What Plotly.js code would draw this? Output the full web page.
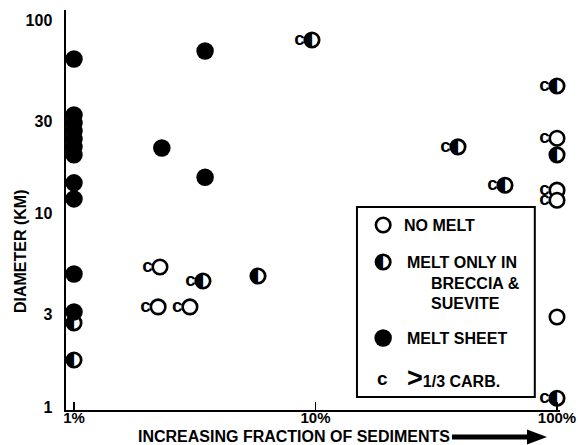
<!DOCTYPE html>
<html><head><meta charset="utf-8">
<script src="https://cdn.plot.ly/plotly-3.0.1.min.js"></script>
<style>html,body{margin:0;padding:0;background:#fff}</style>
</head><body><div id="chart" style="width:578px;height:445px"></div>
<script>
// x: fraction of sediments in target (%), y: crater diameter (km)
const noMeltX = [2.27, 2.23, 3.02, 100, 100, 100, 100];
const noMeltY = [5.29, 3.29, 3.29, 24.5, 13.2, 11.7, 2.92];
const noMeltCarb = [1, 1, 1, 1, 1, 1, 0];

const brecciaX = [1, 1, 3.42, 5.78, 9.67, 38.9, 60.9, 100, 100, 100];
const brecciaY = [2.72, 1.75, 4.48, 4.75, 78.8, 22.1, 14.0, 45.6, 20.1, 1.11];
const brecciaCarb = [0, 0, 1, 0, 1, 1, 1, 1, 0, 1];

const sheetX = [1, 1, 1, 1, 1, 1, 1, 1, 1, 1, 1, 2.31, 3.49, 3.49];
const sheetY = [62.9, 32.3, 29.4, 26.7, 24.3, 22.1, 20.1, 14.4, 11.9, 4.87, 3.10, 21.8, 69.2, 15.4];

const xTickVals = [1, 10, 100];
const xTickText = ['1%', '10%', '100%'];
const yTickVals = [1, 3, 10, 30, 100];
const yTickText = ['1', '3', '10', '30', '100'];

const legendLabels = ['NO MELT', 'MELT ONLY IN', 'BRECCIA &amp;', 'SUEVITE', 'MELT SHEET', '1/3 CARB.'];

// build carbonate label positions from the data
const carbX = [], carbY = [];
noMeltX.forEach((v, i) => { if (noMeltCarb[i]) { carbX.push(v); carbY.push(noMeltY[i]); } });
brecciaX.forEach((v, i) => { if (brecciaCarb[i]) { carbX.push(v); carbY.push(brecciaY[i]); } });

const BOLD = 'Liberation Sans, Arial, Helvetica, sans-serif';
const openMarker = {symbol: 'circle', size: 14.5, color: 'rgba(255,255,255,0)', line: {color: 'black', width: 2.6}};
const openMarkerWhite = {symbol: 'circle', size: 14.5, color: 'white', line: {color: 'black', width: 2.6}};
const filledMarker = {symbol: 'circle', size: 17.5, color: 'black', line: {width: 0}};
const halfGlyph = {family: 'DejaVu Sans', size: 19, color: 'black'};

const traces = [
  // half-filled: black left half (glyph) + thick outline
  {x: brecciaX, y: brecciaY, mode: 'text', text: brecciaX.map(() => '◐'), textposition: 'middle center',
   textfont: halfGlyph, cliponaxis: false, hoverinfo: 'skip'},
  {x: brecciaX, y: brecciaY, mode: 'markers', marker: openMarker, cliponaxis: false, name: 'MELT ONLY IN BRECCIA & SUEVITE'},
  {x: noMeltX, y: noMeltY, mode: 'markers', marker: openMarkerWhite, cliponaxis: false, name: 'NO MELT'},
  {x: sheetX, y: sheetY, mode: 'markers', marker: filledMarker, cliponaxis: false, name: 'MELT SHEET'},
  {x: carbX, y: carbY, mode: 'markers+text', text: carbX.map(() => 'c'), textposition: 'middle left',
   marker: {size: 10, color: 'rgba(0,0,0,0)'}, textfont: {family: BOLD, size: 19, weight: 'bold', color: 'black'},
   cliponaxis: false, hoverinfo: 'skip', name: '>1/3 CARB.'},
  // legend keys (placed in the legend box, on hidden overlay axes)
  {x: [0.642], y: [0.37], xaxis: 'x2', yaxis: 'y2', mode: 'text', text: ['◐'], textposition: 'middle center', textfont: halfGlyph, cliponaxis: false},
  {x: [0.642, 0.642], y: [0.4625, 0.37], xaxis: 'x2', yaxis: 'y2', mode: 'markers', marker: openMarker, cliponaxis: false},
  {x: [0.642], y: [0.18], xaxis: 'x2', yaxis: 'y2', mode: 'markers', marker: filledMarker, cliponaxis: false}
];

function ann(text, x, y, extra) {
  return Object.assign({text: text, x: x, y: y, xref: 'paper', yref: 'paper', showarrow: false,
    xanchor: 'left', yanchor: 'middle', font: {family: BOLD, size: 16, weight: 'bold', color: 'black'}}, extra || {});
}

const layout = {
  width: 578, height: 445,
  margin: {l: 66, r: 18, t: 10, b: 35},
  paper_bgcolor: 'white', plot_bgcolor: 'white',
  showlegend: false,
  font: {family: BOLD, size: 16, color: 'black'},
  xaxis: {type: 'log', range: [-0.0331, 2.0124], tickvals: xTickVals, ticktext: xTickText,
    showgrid: false, zeroline: false, showline: true, linecolor: 'black', linewidth: 2,
    ticks: 'inside', ticklen: 8, tickwidth: 1.5, tickcolor: 'black', ticklabelstandoff: -7,
    tickfont: {family: BOLD, size: 15, weight: 'bold', color: 'black'}},
  yaxis: {type: 'log', range: [-0.0155, 2.0517], tickvals: yTickVals, ticktext: yTickText,
    showgrid: false, zeroline: false, showline: true, linecolor: 'black', linewidth: 2.5,
    ticks: '', ticklabelstandoff: 8,
    tickfont: {family: BOLD, size: 16, weight: 'bold', color: 'black'}},
  xaxis2: {overlaying: 'x', range: [0, 1], visible: false, fixedrange: true},
  yaxis2: {overlaying: 'y', range: [0, 1], visible: false, fixedrange: true},
  annotations: [
    ann('DIAMETER (KM)', -0.0931, 0.3975, {textangle: -90, xanchor: 'center'}),
    ann('INCREASING FRACTION OF SEDIMENTS', 0.4615, -0.0675, {xanchor: 'center'}),
    ann(legendLabels[0], 0.680, 0.4625),
    ann(legendLabels[1], 0.686, 0.37),
    ann(legendLabels[2], 0.735, 0.3175),
    ann(legendLabels[3], 0.735, 0.2675),
    ann(legendLabels[4], 0.686, 0.18),
    ann('<span style="font-size:27px">&gt;</span>' + legendLabels[5], 0.686, 0.08),
    ann('c', 0.6397, 0.08, {xanchor: 'center', font: {family: BOLD, size: 19, weight: 'bold', color: 'black'}})
  ],
  shapes: [
    {type: 'rect', xref: 'paper', yref: 'paper', x0: 0.589, x1: 0.949, y0: 0.0325, y1: 0.5075,
     line: {color: 'black', width: 2}, fillcolor: 'rgba(0,0,0,0)'},
    {type: 'rect', xref: 'paper', yref: 'paper', x0: 0.7814, x1: 0.9453, y0: -0.06125, y1: -0.07375,
     line: {width: 0}, fillcolor: 'black'},
    {type: 'path', xref: 'paper', yref: 'paper', path: 'M0.9332,-0.04875 L0.9737,-0.0675 L0.9332,-0.08625 Z',
     line: {width: 0}, fillcolor: 'black'}
  ]
};

Plotly.newPlot('chart', traces, layout, {displayModeBar: false, staticPlot: true});
</script></body></html>
